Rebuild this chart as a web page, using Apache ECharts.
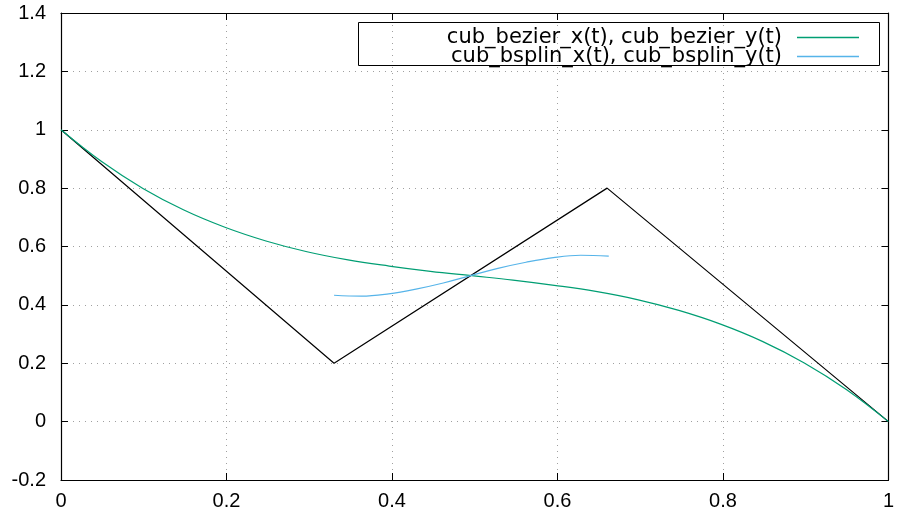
<!DOCTYPE html>
<html>
<head>
<meta charset="utf-8">
<script src="https://cdn.jsdelivr.net/npm/echarts@6/dist/echarts.min.js"></script>
<style>
  html, body { margin: 0; padding: 0; background: #fff; }
  #chart { width: 897px; height: 513px; }
</style>
</head>
<body>
<div id="chart"></div>
<script>
// control polygon
const polyX = [0, 0.33, 0.66, 1];
const polyY = [1, 0.2, 0.8, 0];

// cubic bezier curve
const bezierX = [0, 0.0495, 0.0990, 0.1485, 0.1981, 0.2477, 0.2973, 0.3469, 0.3966, 0.4464, 0.4963,
  0.5462, 0.5962, 0.6463, 0.6964, 0.7467, 0.7971, 0.8476, 0.8983, 0.9491, 1];
const bezierY = [1, 0.890, 0.799, 0.725, 0.666, 0.619, 0.582, 0.554, 0.533, 0.515, 0.5,
  0.485, 0.467, 0.446, 0.418, 0.381, 0.334, 0.275, 0.201, 0.110, 0];

// cubic b-spline curve
const bsplinX = [0.330, 0.363, 0.396, 0.429, 0.462, 0.495, 0.528, 0.562, 0.595, 0.628, 0.662];
const bsplinY = [0.433, 0.430, 0.438, 0.454, 0.475, 0.5, 0.525, 0.546, 0.562, 0.570, 0.567];

const bezierName = 'cub_bezier_x(t), cub_bezier_y(t)';
const bsplinName = 'cub_bsplin_x(t), cub_bsplin_y(t)';

const zip = (xs, ys) => xs.map((x, i) => [x, ys[i]]);
const tickFont = 'Liberation Sans';
const keyFont = 'DejaVu Sans';

const chart = echarts.init(document.getElementById('chart'));

const tickStyle = { inside: true, length: 7, lineStyle: { color: '#000', width: 1 } };
const lineAxis = { show: true, onZero: false, lineStyle: { color: '#000', width: 1.2 } };
const gridLine = { show: true, lineStyle: { color: '#a0a0a0', width: 1, type: [1, 5] } };

chart.setOption({
  animation: false,
  grid: { left: 61, right: 7, top: 13, bottom: 33 },
  xAxis: [{
    type: 'value', min: 0, max: 1, interval: 0.2,
    axisLine: lineAxis,
    axisTick: tickStyle,
    splitLine: gridLine,
    axisLabel: { color: '#000', fontFamily: tickFont, fontSize: 20, margin: 11 },
  }, {
    type: 'value', min: 0, max: 1, interval: 0.2, position: 'top',
    axisLine: lineAxis, axisTick: tickStyle,
    splitLine: { show: false }, axisLabel: { show: false },
  }],
  yAxis: [{
    type: 'value', min: -0.2, max: 1.4, interval: 0.2,
    axisLine: lineAxis,
    axisTick: tickStyle,
    splitLine: gridLine,
    axisLabel: { color: '#000', fontFamily: tickFont, fontSize: 20, margin: 15 },
  }, {
    type: 'value', min: -0.2, max: 1.4, interval: 0.2, position: 'right',
    axisLine: lineAxis, axisTick: tickStyle,
    splitLine: { show: false }, axisLabel: { show: false },
  }],
  legend: [{
    data: [bezierName], right: 33, top: 22, align: 'right', orient: 'vertical',
    icon: 'rect', itemWidth: 62, itemHeight: 1.5,
    textStyle: { color: '#000', fontFamily: keyFont, fontSize: 21, padding: [0, 10, 0, 0] },
  }, {
    data: [bsplinName], right: 33, top: 41, align: 'right', orient: 'vertical',
    icon: 'rect', itemWidth: 62, itemHeight: 1.5,
    textStyle: { color: '#000', fontFamily: keyFont, fontSize: 21, padding: [0, 10, 0, 0] },
  }],
  graphic: [{
    type: 'rect', left: 356, top: 20, silent: true,
    shape: { width: 521, height: 43 },
    style: { fill: 'none', stroke: '#000', lineWidth: 1 },
  }],
  series: [{
    name: 'polygon', type: 'line', data: zip(polyX, polyY),
    showSymbol: false, lineStyle: { color: '#000', width: 1.2 }, itemStyle: { color: '#000' },
  }, {
    name: bezierName, type: 'line', data: zip(bezierX, bezierY),
    smooth: 0.4, showSymbol: false,
    lineStyle: { color: '#009e73', width: 1.2 }, itemStyle: { color: '#009e73' },
  }, {
    name: bsplinName, type: 'line', data: zip(bsplinX, bsplinY),
    smooth: 0.4, showSymbol: false,
    lineStyle: { color: '#56b4e9', width: 1.2 }, itemStyle: { color: '#56b4e9' },
  }],
});
</script>
</body>
</html>
